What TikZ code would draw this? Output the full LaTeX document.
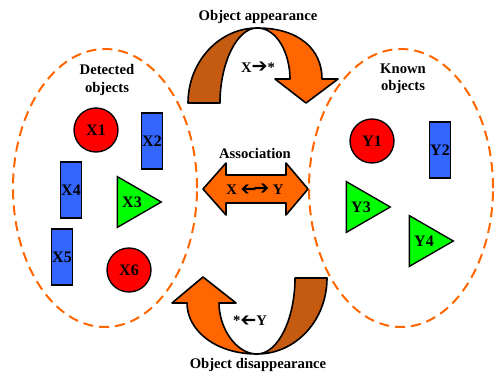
\documentclass[tikz,border=0pt]{standalone}
\usepackage{amsmath}
\usepackage{amssymb}
\usepackage{graphicx}
\usepackage{fontspec}
\setmainfont{Liberation Serif}
\newfontfamily\arrfont{DejaVu Sans}
\usepackage{tikz}
\usetikzlibrary{shapes, arrows, positioning, calc}
\definecolor{objred}{HTML}{FF0000}
\definecolor{objblue}{HTML}{3366FF}
\definecolor{objgreen}{HTML}{00FF00}
\definecolor{arrlight}{HTML}{FF6600}
\definecolor{arrdark}{HTML}{C55A11}
\newcommand{\rarr}{{\arrfont\raisebox{0.3pt}{\scalebox{1.3}{➔}}}}
\newcommand{\larr}{{\arrfont\raisebox{0.3pt}{\rotatebox[origin=c]{180}{\scalebox{1.3}{➔}}}}}
\tikzset{
  objnode/.style = {align=center, inner sep=0pt, text centered, font=\fontsize{12}{14}\selectfont\bfseries, draw=black, line width=1pt},
  obj_c/.style = {objnode, circle, fill=objred, minimum size=33pt},
  obj_r/.style = {objnode, rectangle, fill=objblue, minimum width=15.75pt, minimum height=42pt},
  obj_t/.style = {objnode, regular polygon, regular polygon sides=3, shape border rotate=-90, fill=objgreen, minimum size=44pt},
  grp/.style = {draw=arrlight, dash pattern=on 7.5pt off 4.5pt, line width=1.5pt},
  lbl/.style = {align=center, inner sep=0pt, font=\fontsize{11}{13}\selectfont\bfseries},
  bend_l/.style = {fill=arrlight, draw=black, line width=1.2pt, line join=round},
  bend_d/.style = {fill=arrdark, draw=black, line width=1.2pt, line join=round}
}

\begin{document}
\begin{tikzpicture}[x=0.75pt, y=-0.75pt]
  \useasboundingbox (0,0) rectangle (495,371);
  % groups
  \draw[grp] (105,188) ellipse [x radius=69pt, y radius=104.25pt];
  \draw[grp] (401,188) ellipse [x radius=69pt, y radius=104.25pt];
  \node[lbl] (det) at (107,80) {Detected\\objects};
  \node[lbl] (known) at (403,79) {Known\\objects};
  % detected objects
  \node[obj_c] (x1) at (96,130) {X1};
  \node[obj_r] (x2) at (152,141) {X2};
  \node[obj_t] (x3) at (132,202) {X3};
  \node[obj_r] (x4) at (71,190) {X4};
  \node[obj_r] (x5) at (62,257) {X5};
  \node[obj_c] (x6) at (129,270) {X6};
  % known objects
  \node[obj_c] (y1) at (372,141) {Y1};
  \node[obj_r] (y2) at (440,150) {Y2};
  \node[obj_t] (y3) at (361,207) {Y3};
  \node[obj_t] (y4) at (424,241) {Y4};
  % appearance
  \filldraw[bend_d] (188,103) .. controls (188,62) and (219,28) .. (257,28)
      .. controls (237,28) and (220,63) .. (220,103) -- cycle;
  \filldraw[bend_l] (257,28) .. controls (300,28) and (322,50) .. (322,79)
      -- (338,79) -- (306,103) -- (275,79) -- (290,79)
      .. controls (290,55) and (278,28) .. (257,28) -- cycle;
  \node[lbl] (appear) at (258,17) {Object appearance};
  \node[lbl] (ax) at (258,67) {X\rarr*};
  % disappearance
  \filldraw[bend_d] (327,278) .. controls (327,320) and (296,354) .. (257,354)
      .. controls (278,354) and (295,319) .. (295,278) -- cycle;
  \filldraw[bend_l] (257,354) .. controls (215,354) and (187,330) .. (187,303)
      -- (172,303) -- (203,277) -- (236,303) -- (219,303)
      .. controls (219,328) and (236,354) .. (257,354) -- cycle;
  \node[lbl] (disappear) at (258,365) {Object disappearance};
  \node[lbl] (dy) at (250,320) {*\larr Y};
  % association
  \filldraw[bend_l] (203,189) -- (226,163) -- (226,175) -- (286,175) -- (286,163)
      -- (308,189) -- (286,215) -- (286,203) -- (226,203) -- (226,215) -- cycle;
  \node[lbl] (assoc) at (255,153) {Association};
  \node[lbl] (xy) at (255,189) {X \larr\kern-2.5pt\rarr\ Y};
\end{tikzpicture}
\end{document}
